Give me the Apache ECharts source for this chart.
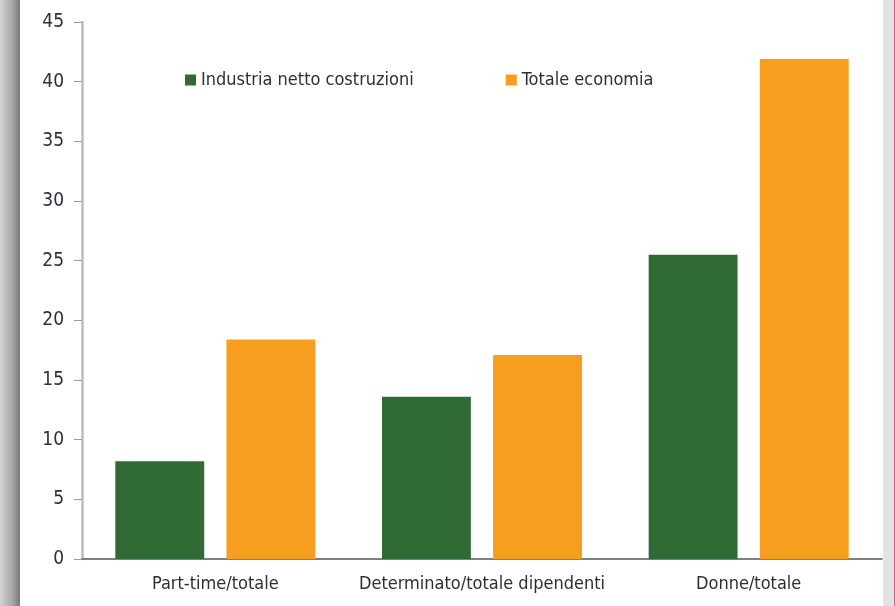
<!DOCTYPE html>
<html>
<head>
<meta charset="utf-8">
<script src="https://cdn.jsdelivr.net/npm/echarts@6/dist/echarts.min.js"></script>
<style>
  html, body { margin: 0; padding: 0; background: #fff; }
  #chart { width: 895px; height: 606px; }
</style>
</head>
<body>
<div id="chart"></div>
<script>
const categories = ["Part-time/totale", "Determinato/totale dipendenti", "Donne/totale"];
const industria = [8.2, 13.6, 25.5];
const totale = [18.4, 17.1, 41.9];
const seriesNames = ["Industria netto costruzioni", "Totale economia"];

const font = '"Liberation Sans Narrow", "DejaVu Sans Condensed", "Roboto", sans-serif';
const chart = echarts.init(document.getElementById("chart"));

chart.setOption({
  animation: false,
  backgroundColor: "#fff",
  textStyle: { fontFamily: font },
  graphic: [
    {
      type: "rect",
      shape: { x: 0, y: 0, width: 20, height: 606 },
      style: {
        fill: new echarts.graphic.LinearGradient(0, 0, 1, 0, [
          { offset: 0, color: "#d4d4d4" },
          { offset: 0.6, color: "#a8a8a8" },
          { offset: 1, color: "#7a7a7a" }
        ])
      },
      silent: true
    },
    {
      type: "rect",
      shape: { x: 883, y: 0, width: 11, height: 606 },
      style: { fill: "#e2e2e2" },
      silent: true
    },
    {
      type: "rect",
      shape: { x: 894, y: 0, width: 1, height: 606 },
      style: { fill: "#e0559a" },
      silent: true
    }
  ],
  legend: {
    top: 66,
    left: 180,
    itemWidth: 11,
    itemHeight: 11,
    itemGap: 92,
    icon: "rect",
    textStyle: { fontFamily: font, fontSize: 18, color: "#2e2e38" },
    data: seriesNames
  },
  grid: { left: 82, right: 13, top: 22, bottom: 47 },
  xAxis: {
    type: "category",
    data: categories,
    axisLine: { lineStyle: { color: "#555", width: 1.5 } },
    axisTick: { show: false },
    axisLabel: { interval: 0, margin: 16, fontFamily: font, fontSize: 18, color: "#2e2e38" }
  },
  yAxis: {
    type: "value",
    min: 0,
    max: 45,
    interval: 5,
    splitLine: { show: false },
    axisLine: { show: true, lineStyle: { color: "#bbb", width: 2.5 } },
    axisTick: { show: true, length: 8, lineStyle: { color: "#999" } },
    axisLabel: { margin: 18, fontFamily: font, fontSize: 19, color: "#2e2e38" }
  },
  series: [
    {
      name: seriesNames[0],
      type: "bar",
      data: industria,
      itemStyle: { color: "#2f6a35" },
      barGap: "25%",
      barCategoryGap: "25%"
    },
    {
      name: seriesNames[1],
      type: "bar",
      data: totale,
      itemStyle: { color: "#f79e1e" }
    }
  ]
});
</script>
</body>
</html>
